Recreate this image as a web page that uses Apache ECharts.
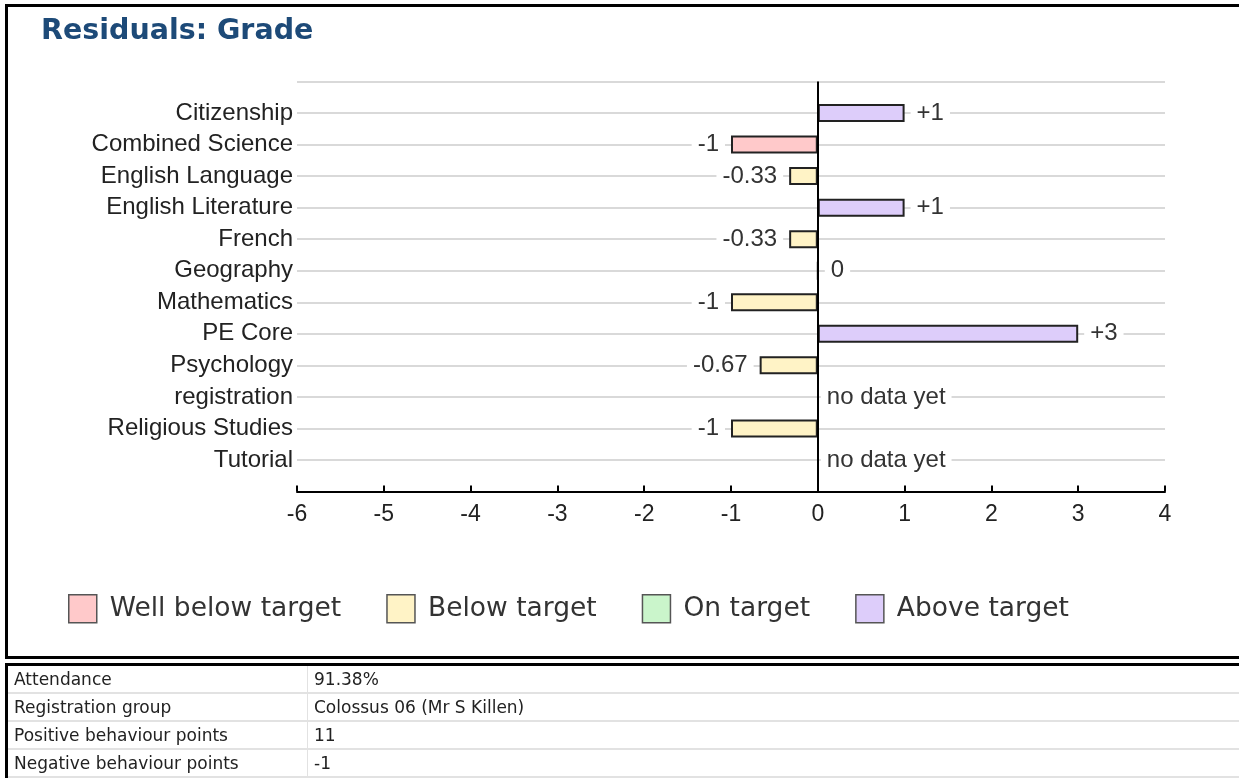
<!DOCTYPE html>
<html>
<head>
<meta charset="utf-8">
<script src="https://cdn.jsdelivr.net/npm/echarts@6/dist/echarts.min.js"></script>
<style>
  body { margin: 0; background: #fff; width: 1239px; height: 778px; overflow: hidden; position: relative; }
  #chart { position: absolute; left: 0; top: 0; width: 1239px; height: 660px; }
  #frame { position: absolute; left: 5px; top: 4px; width: 1240px; height: 649px; border: 3px solid #000; border-right: none; pointer-events: none; }
  #info { position: absolute; left: 5px; top: 663px; width: 1234px; border-top: 3px solid #000; border-left: 3px solid #000;
          border-collapse: collapse; font-family: 'DejaVu Sans', Verdana, sans-serif; font-size: 17px; color: #222; }
  #info td { height: 26px; padding: 0 0 0 6px; border-bottom: 2px solid #e2e2e2; }
  #info td:first-child { width: 293px; border-right: 1px solid #e2e2e2; }
</style>
</head>
<body>
<div id="chart"></div>
<div id="frame"></div>
<table id="info"></table>
<script>
// subjects, top to bottom
const categories = ['Citizenship', 'Combined Science', 'English Language', 'English Literature', 'French',
  'Geography', 'Mathematics', 'PE Core', 'Psychology', 'registration', 'Religious Studies', 'Tutorial']
// residual per subject, null = no data yet
const residuals = [1, -1, -0.33, 1, -0.33, 0, -1, 3, -0.67, null, -1, null]
// target band per subject
const bands = ['Above target', 'Well below target', 'Below target', 'Above target', 'Below target',
  'On target', 'Below target', 'Above target', 'Below target', null, 'Below target', null]
const bandNames = ['Well below target', 'Below target', 'On target', 'Above target']
const bandColors = ['#ffc9ca', '#fff3c6', '#caf5cb', '#ddcdfa']
const xTicks = [-6, 4]

const infoLabels = ['Attendance', 'Registration group', 'Positive behaviour points', 'Negative behaviour points']
const infoValues = ['91.38%', 'Colossus 06 (Mr S Killen)', '11', '-1']

document.getElementById('info').innerHTML = infoLabels
  .map((l, i) => `<tr><td>${l}</td><td>${infoValues[i]}</td></tr>`).join('')

// pad one empty slot above and below so gridlines sit at every row
const axisData = [''].concat(categories, [''])
const pad = (arr) => ['-'].concat(arr, ['-'])

const labelFont = { fontFamily: "'Liberation Sans', Arial, sans-serif", fontSize: 24, color: '#333' }
const valueLabel = {
  show: true,
  ...labelFont,
  backgroundColor: '#fff',
  padding: [2, 6],
  distance: 6,
  formatter: (p) => (p.value > 0 ? '+' + p.value : String(p.value)),
}

const bandSeries = bandNames.map((name, k) => ({
  name,
  type: 'bar',
  stack: 'r',
  barWidth: 18,
  itemStyle: { color: bandColors[k], borderColor: '#222', borderWidth: 2 },
  label: valueLabel,
  data: pad(residuals.map((v, i) => (bands[i] === name
    ? { value: v, label: { position: v < 0 ? 'left' : 'right' } }
    : '-'))),
}))

const noDataSeries = {
  name: 'no data',
  type: 'bar',
  stack: 'r',
  barWidth: 18,
  itemStyle: { color: 'transparent', borderWidth: 0 },
  label: { ...valueLabel, position: 'right', distance: 3, formatter: 'no data yet' },
  data: pad(residuals.map((v) => (v === null ? 0 : '-'))),
  markLine: {
    silent: true,
    symbol: 'none',
    label: { show: false },
    lineStyle: { color: '#000', width: 2, type: 'solid' },
    data: [{ xAxis: 0 }],
  },
}

const chart = echarts.init(document.getElementById('chart'))
chart.setOption({
  animation: false,
  title: {
    text: 'Residuals: Grade',
    left: 36,
    top: 12,
    textStyle: { fontFamily: "'DejaVu Sans', Verdana, sans-serif", fontWeight: 'bold', fontSize: 28.5, color: '#1d4a78' },
  },
  legend: {
    data: bandNames,
    left: 63,
    top: 589,
    itemWidth: 28,
    itemHeight: 28,
    itemGap: 45,
    icon: 'rect',
    itemStyle: { borderColor: '#555', borderWidth: 1.5 },
    textStyle: { fontFamily: "'DejaVu Sans', Verdana, sans-serif", fontSize: 26.5, color: '#333', padding: [0, 0, 0, 8] },
  },
  grid: { left: 297, right: 74, top: 81.5, bottom: 168.5 },
  xAxis: {
    type: 'value',
    min: xTicks[0],
    max: xTicks[1],
    interval: 1,
    axisLine: { show: true, lineStyle: { color: '#000', width: 2 } },
    axisTick: { show: true, inside: true, length: 6, lineStyle: { color: '#000', width: 2 } },
    axisLabel: { margin: 12, fontFamily: "'Liberation Sans', Arial, sans-serif", fontSize: 23, color: '#222' },
    splitLine: { show: false },
  },
  yAxis: {
    type: 'category',
    inverse: true,
    boundaryGap: false,
    data: axisData,
    axisLine: { show: false, onZero: false },
    axisTick: { show: false },
    axisLabel: { interval: 0, margin: 4, ...labelFont, color: '#222' },
    splitLine: { show: true, interval: 0, lineStyle: { color: '#d9d9d9', width: 2 } },
  },
  series: bandSeries.concat([noDataSeries]),
})
</script>
</body>
</html>
